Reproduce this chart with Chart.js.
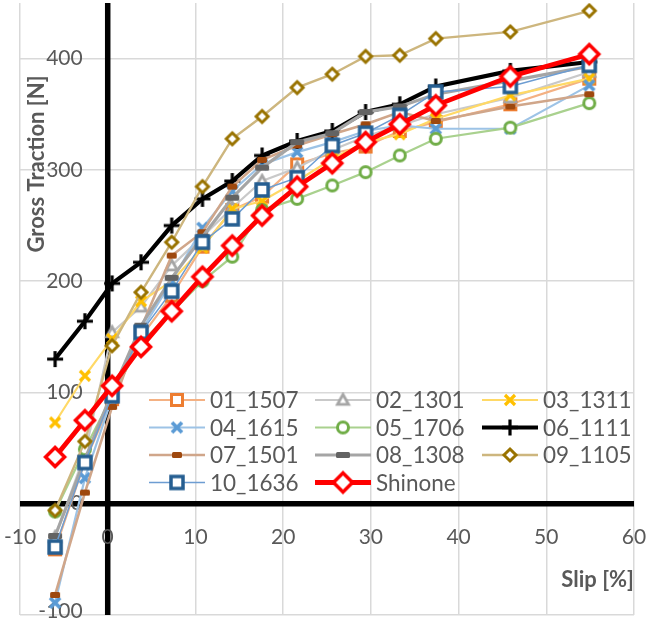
<!DOCTYPE html>
<html>
<head>
<meta charset="utf-8">
<script src="https://cdn.jsdelivr.net/npm/chart.js@4/dist/chart.umd.min.js"></script>
<style>
html,body{margin:0;padding:0;background:#fff;}
#wrap{width:649px;height:622px;}
</style>
</head>
<body>
<div id="wrap"><canvas id="c" width="649" height="622"></canvas></div>
<script>
// ---- data ----
const slip = [-6.0, -2.6, 0.5, 3.8, 7.3, 10.8, 14.2, 17.6, 21.6, 25.6, 29.4, 33.3, 37.4, 45.9, 54.9];
const t01_1507 = [-41, 38, 94, 150, 187, 231, 264, 276, 305, 315, 321, 335, 343, 359, 382];
const t02_1301 = [-30, 45, 154, 177, 214, 240, 266, 290, 302, 318, 330, 340, 350, 365, 388];
const t03_1311 = [73, 115, 148, 182, 200, 230, 265, 272, 290, 310, 325, 332, 346, 367, 382];
const t04_1615 = [-89, 23, 95, 155, 200, 248, 281, 305, 316, 325, 335, 340, 337, 337, 376];
const t05_1706 = [-7, 49, 97, 145, 172, 200, 222, 264, 274, 286, 298, 313, 328, 338, 360];
const t06_1111 = [130, 164, 198, 217, 250, 274, 290, 313, 326, 335, 352, 359, 375, 389, 397];
const t07_1501 = [-82, 10, 87, 158, 223, 244, 285, 309, 322, 332, 341, 352, 344, 357, 368];
const t08_1308 = [-29, 40, 100, 160, 203, 240, 275, 302, 325, 333, 352, 357, 368, 380, 393];
const t09_1105 = [-6, 56, 142, 190, 235, 285, 328, 348, 374, 386, 402, 403, 418, 424, 443];
const t10_1636 = [-39, 37, 97, 154, 191, 235, 256, 282, 293, 322, 333, 349, 370, 375, 394];
const shinone  = [42, 75, 106, 141, 173, 204, 232, 259, 285, 306, 325, 341, 358, 384, 404];
const seriesNames = ['01_1507','02_1301','03_1311','04_1615','05_1706','06_1111','07_1501','08_1308','09_1105','10_1636','Shinone'];
const seriesValues = [t01_1507,t02_1301,t03_1311,t04_1615,t05_1706,t06_1111,t07_1501,t08_1308,t09_1105,t10_1636,shinone];
const xTicks = [-10, 0, 10, 20, 30, 40, 50, 60];
const yTicks = [-100, 0, 100, 200, 300, 400];
const xTitle = 'Slip [%]';
const yTitle = 'Gross Traction [N]';

// ---- marker images ----
function mk(size, draw){const c=document.createElement('canvas');c.width=size;c.height=size;const g=c.getContext('2d');draw(g,size/2);return c;}
const square=(col,h,lw)=>mk(Math.ceil(2*h+lw+2),(g,c)=>{g.fillStyle='#fff';g.strokeStyle=col;g.lineWidth=lw;g.fillRect(c-h,c-h,2*h,2*h);g.strokeRect(c-h,c-h,2*h,2*h);});
const diamond=(col,h,lw)=>mk(Math.ceil(2*h+lw+3),(g,c)=>{g.fillStyle='#fff';g.strokeStyle=col;g.lineWidth=lw;g.lineJoin='miter';g.beginPath();g.moveTo(c,c-h);g.lineTo(c+h,c);g.lineTo(c,c+h);g.lineTo(c-h,c);g.closePath();g.fill();g.stroke();});
const circle=(col,r,lw)=>mk(Math.ceil(2*r+lw+2),(g,c)=>{g.fillStyle='#fff';g.strokeStyle=col;g.lineWidth=lw;g.beginPath();g.arc(c,c,r,0,Math.PI*2);g.fill();g.stroke();});
const tri=(col,h,lw)=>mk(Math.ceil(2*h+lw+3),(g,c)=>{g.fillStyle='#fff';g.strokeStyle=col;g.lineWidth=lw;g.beginPath();g.moveTo(c,c-h);g.lineTo(c+h,c+h*0.8);g.lineTo(c-h,c+h*0.8);g.closePath();g.fill();g.stroke();});
const xmark=(col,h,lw)=>mk(Math.ceil(2*h+lw+2),(g,c)=>{g.strokeStyle=col;g.lineWidth=lw;g.lineCap='butt';g.beginPath();g.moveTo(c-h,c-h);g.lineTo(c+h,c+h);g.moveTo(c+h,c-h);g.lineTo(c-h,c+h);g.stroke();});
const plus=(col,h,lw)=>mk(Math.ceil(2*h+2),(g,c)=>{g.strokeStyle=col;g.lineWidth=lw;g.beginPath();g.moveTo(c-h,c);g.lineTo(c+h,c);g.moveTo(c,c-h);g.lineTo(c,c+h);g.stroke();});
const dash=(col,w,h)=>mk(Math.ceil(w+2),(g,c)=>{g.fillStyle=col;g.beginPath();if(g.roundRect){g.roundRect(c-w/2,c-h/2,w,h,1.5);}else{g.rect(c-w/2,c-h/2,w,h);}g.fill();});

const styles = [
  {line:'#F4B183', lw:2.2, marker:square('#ED7D31',5.5,3)},
  {line:'#C9C9C9', lw:2.2, marker:tri('#A5A5A5',5.5,2.8)},
  {line:'#FFD966', lw:2.2, marker:xmark('#FFC000',5,3.2)},
  {line:'#9DC3E6', lw:2.2, marker:xmark('#5B9BD5',5,3.8)},
  {line:'#A9D18E', lw:2.2, marker:circle('#70AD47',5.5,3)},
  {line:'#000000', lw:4.2, marker:plus('#000000',8,3.2)},
  {line:'#D0A68A', lw:2.6, marker:dash('#9E480E',10,6)},
  {line:'#A5A5A5', lw:3.2, marker:dash('#636363',14,6)},
  {line:'#CDB67E', lw:2.4, marker:diamond('#997300',6,3)},
  {line:'#6D9DD2', lw:1.5, marker:square('#255E91',6,3.5)},
  {line:'#FF0000', lw:4.8, marker:diamond('#FF0000',9.5,3.5)}
];

const datasets = seriesValues.map((vals,i)=>({
  label: seriesNames[i],
  data: slip.map((x,k)=>({x:x, y:vals[k]})),
  borderColor: styles[i].line,
  borderWidth: styles[i].lw,
  pointStyle: styles[i].marker,
  pointRadius: 6,
  pointHoverRadius: 6,
  showLine: true,
  fill: false,
  tension: 0,
  order: seriesValues.length - i
}));

const FONT = 'Lato, "Open Sans", sans-serif';

const overlay = {
  id:'overlay',
  beforeDatasetsDraw(chart){
    const {ctx, chartArea:a} = chart;
    const xs = chart.scales.x, ys = chart.scales.y;
    const x0 = xs.getPixelForValue(0), y0 = ys.getPixelForValue(0);
    ctx.save();
    ctx.strokeStyle='#000'; ctx.lineWidth=5.5;
    ctx.beginPath();
    ctx.moveTo(x0,a.top); ctx.lineTo(x0,a.bottom);
    ctx.moveTo(a.left,y0); ctx.lineTo(a.right,y0);
    ctx.stroke();
    ctx.fillStyle='#595959';
    ctx.font='21px '+FONT;
    ctx.textAlign='right'; ctx.textBaseline='middle';
    yTicks.forEach(v=>{let py=ys.getPixelForValue(v); if(v===-100) py-=4; ctx.fillText(String(v), x0-25, py);});
    ctx.textAlign='center';
    xTicks.forEach(v=>ctx.fillText(String(v), xs.getPixelForValue(v), y0+34));
    ctx.font='bold 22px '+FONT;
    ctx.textAlign='right';
    ctx.fillText(xTitle, a.right, y0+76);
    ctx.save();
    ctx.translate(37,164); ctx.rotate(-Math.PI/2);
    ctx.textAlign='center';
    ctx.fillText(yTitle,0,0);
    ctx.restore();
    ctx.restore();
  },
  afterDatasetsDraw(chart){
    const ctx = chart.ctx;
    const colX=[149,315,482], rowY=[400,427.5,455,482.5], len=56;
    ctx.save();
    ctx.font='22.5px '+FONT;
    ctx.textBaseline='middle'; ctx.textAlign='left';
    seriesNames.forEach((name,i)=>{
      const r=Math.floor(i/3), c=i%3, x=colX[c], y=rowY[r], st=styles[i];
      ctx.strokeStyle=st.line; ctx.lineWidth=st.lw;
      ctx.beginPath(); ctx.moveTo(x,y); ctx.lineTo(x+len,y); ctx.stroke();
      const m=st.marker;
      ctx.drawImage(m, x+len/2-m.width/2, y-m.height/2);
      ctx.fillStyle='#595959';
      ctx.fillText(name, x+len+5, y+1);
    });
    ctx.restore();
  }
};

new Chart(document.getElementById('c'), {
  type:'scatter',
  data:{datasets},
  options:{
    responsive:false,
    animation:false,
    events:[],
    layout:{autoPadding:false, padding:{left:20, top:3, right:15, bottom:7}},
    plugins:{legend:{display:false}, tooltip:{enabled:false}},
    scales:{
      x:{type:'linear', min:-10, max:60,
         ticks:{display:false, stepSize:10},
         grid:{color:'#D9D9D9', lineWidth:1.5, drawTicks:false},
         border:{display:false},
         afterFit:(s)=>{s.height=0; s.paddingLeft=0; s.paddingRight=0;}},
      y:{type:'linear', min:-100, max:450,
         ticks:{display:false, stepSize:100},
         afterBuildTicks:(s)=>{s.ticks=s.ticks.filter(t=>t.value<=400);},
         grid:{color:'#D9D9D9', lineWidth:1.5, drawTicks:false},
         border:{display:false},
         afterFit:(s)=>{s.width=0; s.paddingTop=0; s.paddingBottom=0;}}
    }
  },
  plugins:[overlay]
});
</script>
</body>
</html>
